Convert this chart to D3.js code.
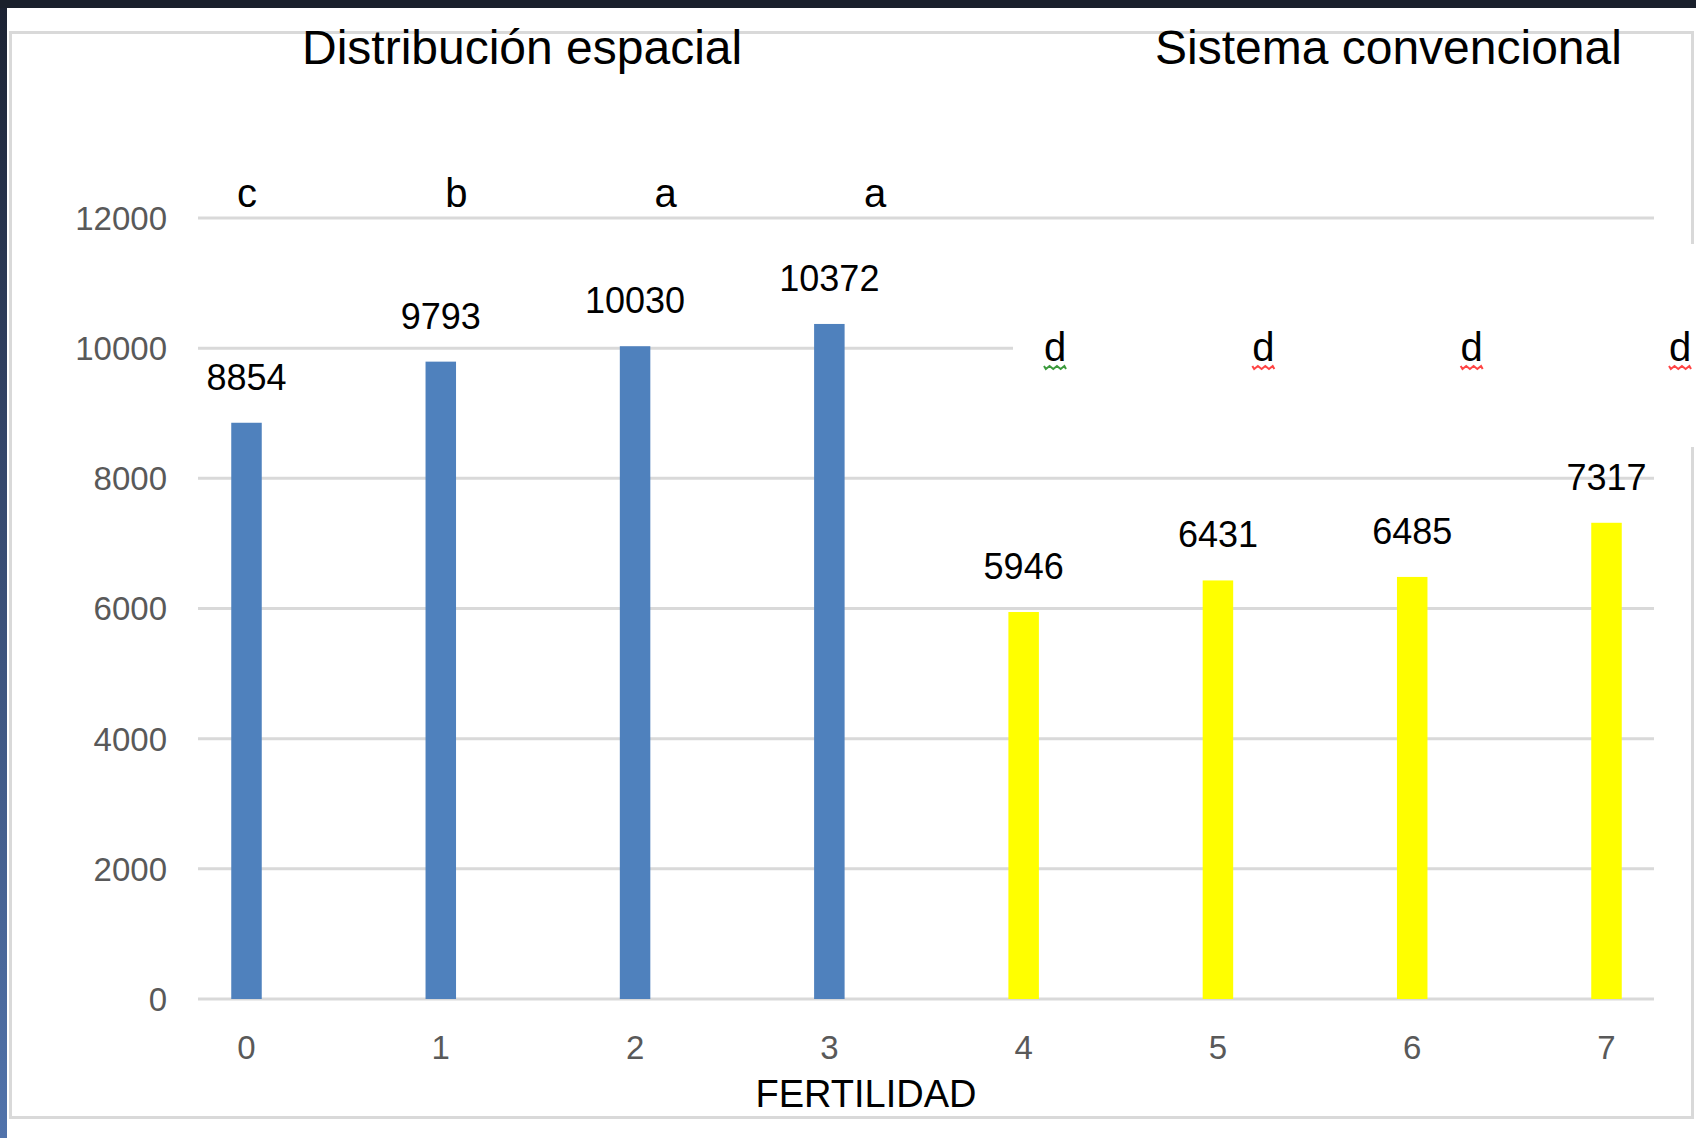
<!DOCTYPE html>
<html>
<head>
<meta charset="utf-8">
<script src="https://cdn.jsdelivr.net/npm/d3@7"></script>
<style>
  html, body { margin: 0; padding: 0; background: #ffffff; }
  svg { display: block; }
</style>
</head>
<body>
<script>
// ---- data ----
const categories = ["0", "1", "2", "3", "4", "5", "6", "7"];
const values = [8854, 9793, 10030, 10372, 5946, 6431, 6485, 7317];
const groups = ["espacial", "espacial", "espacial", "espacial", "convencional", "convencional", "convencional", "convencional"];
const letters = ["c", "b", "a", "a", "d", "d", "d", "d"];
const yTicks = [0, 2000, 4000, 6000, 8000, 10000, 12000];
const titles = ["Distribución espacial", "Sistema convencional"];
const xTitle = "FERTILIDAD";

// ---- layout ----
const W = 1696, H = 1138;
const svg = d3.select("body").append("svg").attr("width", W).attr("height", H);

const defs = svg.append("defs");
const grad = defs.append("linearGradient").attr("id", "leftStrip").attr("x1", 0).attr("y1", 0).attr("x2", 0).attr("y2", 1);
grad.append("stop").attr("offset", "0%").attr("stop-color", "#1b2232");
grad.append("stop").attr("offset", "40%").attr("stop-color", "#34466a");
grad.append("stop").attr("offset", "100%").attr("stop-color", "#5173ab");

svg.append("rect").attr("x", 0).attr("y", 0).attr("width", W).attr("height", H).attr("fill", "#ffffff");
svg.append("rect").attr("x", 0).attr("y", 0).attr("width", 7).attr("height", H).attr("fill", "url(#leftStrip)");
svg.append("rect").attr("x", 0).attr("y", 0).attr("width", W).attr("height", 8).attr("fill", "#1a202c");

// chart area border
svg.append("rect").attr("x", 10.5).attr("y", 32.5).attr("width", 1682).attr("height", 1085)
  .attr("fill", "none").attr("stroke", "#d9d9d9").attr("stroke-width", 3);

const plotL = 198, plotR = 1654;
const y = d3.scaleLinear().domain([0, 12000]).range([999, 218]);
const x = d3.scalePoint().domain(categories).range([246.5, 1606.5]);
const groupCats = g => categories.filter((c, i) => groups[i] === g);
const xLetter = {
  espacial: d3.scalePoint().domain(groupCats("espacial")).range([247, 875]),
  convencional: d3.scalePoint().domain(groupCats("convencional")).range([1055, 1680])
};
const color = d3.scaleOrdinal().domain(["espacial", "convencional"]).range(["#4f81bd", "#ffff00"]);
const barW = 30.5;

// gridlines
svg.append("g").selectAll("line").data(yTicks).join("line")
  .attr("x1", plotL).attr("x2", plotR)
  .attr("y1", d => y(d)).attr("y2", d => y(d))
  .attr("stroke", "#d9d9d9").attr("stroke-width", 3);

// y tick labels
svg.append("g").selectAll("text").data(yTicks).join("text")
  .attr("x", 167).attr("y", d => y(d))
  .attr("dy", "0.36em")
  .attr("text-anchor", "end")
  .attr("font-family", "Liberation Sans, Arial, sans-serif")
  .attr("font-size", 33)
  .attr("fill", "#595959")
  .text(d => d);

// bars
svg.append("g").selectAll("rect").data(values).join("rect")
  .attr("x", (d, i) => x(categories[i]) - barW / 2)
  .attr("width", barW)
  .attr("y", d => y(d))
  .attr("height", d => y(0) - y(d))
  .attr("fill", (d, i) => color(groups[i]));

// white text box that hides part of the grid on the right
svg.append("rect").attr("x", 1013).attr("y", 244).attr("width", W - 1013).attr("height", 203).attr("fill", "#ffffff");

// value labels
svg.append("g").selectAll("text").data(values).join("text")
  .attr("x", (d, i) => x(categories[i]))
  .attr("y", d => y(d) - 46)
  .attr("dy", "0.36em")
  .attr("text-anchor", "middle")
  .attr("font-family", "Liberation Sans, Arial, sans-serif")
  .attr("font-size", 36)
  .attr("fill", "#000000")
  .text(d => d);

// x tick labels
svg.append("g").selectAll("text").data(categories).join("text")
  .attr("x", d => x(d))
  .attr("y", 1047)
  .attr("dy", "0.36em")
  .attr("text-anchor", "middle")
  .attr("font-family", "Liberation Sans, Arial, sans-serif")
  .attr("font-size", 33)
  .attr("fill", "#595959")
  .text(d => d);

// x axis title
svg.append("text").attr("x", 866).attr("y", 1107)
  .attr("text-anchor", "middle")
  .attr("font-family", "Liberation Sans, Arial, sans-serif")
  .attr("font-size", 38)
  .attr("fill", "#000000")
  .text(xTitle);

// group titles
svg.append("text").attr("x", 302).attr("y", 64)
  .attr("font-family", "Liberation Sans, Arial, sans-serif")
  .attr("font-size", 48).attr("fill", "#000000").text(titles[0]);
svg.append("text").attr("x", 1155).attr("y", 64)
  .attr("font-family", "Liberation Sans, Arial, sans-serif")
  .attr("font-size", 48).attr("fill", "#000000").text(titles[1]);

// significance letters
const letterBase = (i) => groups[i] === "espacial" ? 207 : 361;
const letterX = (i) => xLetter[groups[i]](categories[i]);
svg.append("g").selectAll("text").data(letters).join("text")
  .attr("x", (d, i) => letterX(i))
  .attr("y", (d, i) => letterBase(i))
  .attr("text-anchor", "middle")
  .attr("font-family", "Liberation Sans, Arial, sans-serif")
  .attr("font-size", 40)
  .attr("fill", "#000000")
  .text(d => d);

// spell-check squiggles under the "d" letters
const squiggle = (cx, cy) => {
  let p = `M${cx - 11},${cy}`;
  for (let k = 0; k < 6; k++) {
    p += ` L${cx - 11 + (k + 0.5) * 3.7},${cy + (k % 2 === 0 ? 3 : 0)}`;
  }
  p += ` L${cx + 11},${cy + 3}`;
  return p;
};
svg.append("g").selectAll("path").data(letters.map((d, i) => i).filter(i => groups[i] === "convencional")).join("path")
  .attr("d", i => squiggle(letterX(i), 366))
  .attr("fill", "none")
  .attr("stroke", (i, k) => k === 0 ? "#3c9a3c" : "#ff4444")
  .attr("stroke-width", 2);
</script>
</body>
</html>
